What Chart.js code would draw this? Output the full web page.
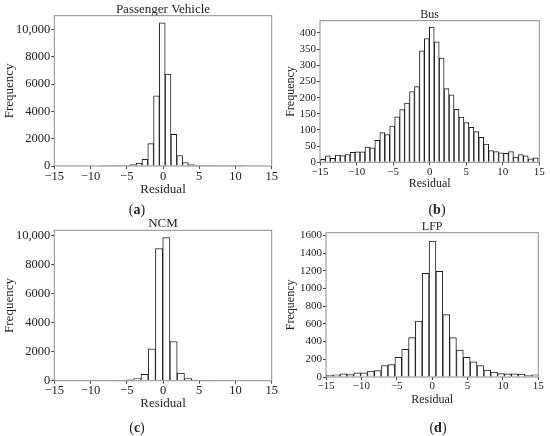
<!DOCTYPE html>
<html>
<head>
<meta charset="utf-8">
<script src="https://cdn.jsdelivr.net/npm/chart.js@4.4.1/dist/chart.umd.min.js"></script>
<style>
  body { margin: 0; background: #fff; }
  #wrap { position: relative; width: 550px; height: 436px; overflow: hidden; }
  canvas { position: absolute; }
  .cap { position: absolute; font: 14px "Liberation Serif", serif; color: #222; transform: translate(-50%, -50%); white-space: nowrap; }
</style>
</head>
<body>
<div id="wrap">
  <canvas id="pv" width="282" height="218" style="left:0;top:0"></canvas>
  <canvas id="bus" width="275" height="218" style="left:275px;top:0"></canvas>
  <canvas id="ncm" width="282" height="228" style="left:0;top:208px"></canvas>
  <canvas id="lfp" width="275" height="228" style="left:275px;top:208px"></canvas>
  <div class="cap" style="left:137px;top:210px">(<b>a</b>)</div>
  <div class="cap" style="left:437px;top:210px">(<b>b</b>)</div>
  <div class="cap" style="left:137px;top:428px">(<b>c</b>)</div>
  <div class="cap" style="left:438px;top:428px">(<b>d</b>)</div>
</div>
<script>
// bin centres and counts
const pvCenters = [-8.1, -7.3, -6.5, -5.7, -4.9, -4.1, -3.3, -2.5, -1.7, -0.9, -0.1, 0.7, 1.5, 2.3, 3.1, 3.9, 4.7, 5.5, 6.3, 7.1, 7.9, 8.7, 9.5, 10.3, 11.1];
const pvCounts = [5, 8, 12, 25, 50, 100, 220, 490, 1640, 5150, 10500, 6750, 2330, 770, 260, 110, 50, 25, 12, 8, 5, 4, 3, 2, 2];
const pvTicks = [0, 2000, 4000, 6000, 8000, 10000];

const busCenters = [-14.60, -13.93, -13.25, -12.57, -11.90, -11.22, -10.54, -9.87, -9.19, -8.51, -7.83, -7.16, -6.48, -5.80, -5.13,
  -4.45, -3.77, -3.10, -2.42, -1.74, -1.06, -0.39, 0.29, 0.97, 1.64, 2.32, 3.00, 3.68, 4.35, 5.03, 5.71, 6.38, 7.06, 7.74,
  8.41, 9.09, 9.77, 10.45, 11.12, 11.80, 12.48, 13.15, 13.83, 14.51];
const busCounts = [9, 20, 12, 22, 21, 24, 31, 32, 32, 47, 45, 68, 92, 86, 112, 141, 163, 183, 219, 234, 345, 383, 418,
  373, 322, 228, 209, 164, 140, 123, 108, 95, 77, 56, 36, 33, 29, 28, 33, 16, 24, 20, 11, 14];
const busTicks = [0, 50, 100, 150, 200, 250, 300, 350, 400];

const ncmCenters = [-6.54, -5.54, -4.54, -3.54, -2.54, -1.54, -0.54, 0.46, 1.46, 2.46, 3.46, 4.46, 5.46, 6.46];
const ncmCounts = [8, 20, 55, 140, 440, 2190, 9100, 9850, 2700, 520, 140, 45, 15, 6];
const ncmTicks = [0, 2000, 4000, 6000, 8000, 10000];

const lfpCenters = [-14.47, -13.50, -12.53, -11.57, -10.60, -9.63, -8.66, -7.69, -6.73, -5.76, -4.79, -3.82, -2.85, -1.89, -0.92,
  0.05, 1.02, 1.99, 2.95, 3.92, 4.89, 5.86, 6.83, 7.79, 8.76, 9.73, 10.70, 11.67, 12.63, 13.60, 14.57];
const lfpCounts = [18, 24, 36, 28, 48, 48, 68, 72, 130, 140, 222, 312, 445, 632, 1170, 1535,
  1195, 705, 445, 305, 222, 172, 130, 78, 55, 40, 36, 36, 34, 16, 25];
const lfpTicks = [0, 200, 400, 600, 800, 1000, 1200, 1400, 1600];

const xTicks = [-15, -10, -5, 0, 5, 10, 15];

const FONT = '"Liberation Serif", serif';
const INK = '#222';

const frame = {
  id: 'frame',
  afterDatasetsDraw(chart) {
    const { ctx, chartArea: a } = chart;
    ctx.save();
    ctx.strokeStyle = '#8c8c8c';
    ctx.lineWidth = 1;
    ctx.strokeRect(a.left, a.top, a.right - a.left, a.bottom - a.top);
    ctx.restore();
  }
};

function histogram(id, title, centers, counts, yMax, yTicks, box) {
  const tickFont = { family: FONT, size: box.tick };
  const labelFont = { family: FONT, size: box.label, lineHeight: 1, weight: 'normal' };
  new Chart(document.getElementById(id), {
    type: 'bar',
    data: {
      datasets: [{
        data: centers.map((c, i) => ({ x: c, y: counts[i] })),
        backgroundColor: '#fff',
        borderColor: '#1e1e1e',
        borderWidth: 1,
        barPercentage: 1,
        categoryPercentage: 1,
        clip: 0
      }]
    },
    options: {
      responsive: false,
      animation: false,
      layout: { padding: { left: 0, right: box.right, top: box.top, bottom: 0 } },
      plugins: {
        legend: { display: false },
        tooltip: { enabled: false },
        title: { display: true, text: title, font: labelFont, color: INK, padding: 0, fullSize: false }
      },
      scales: {
        x: {
          type: 'linear', min: xTicks[0], max: xTicks[xTicks.length - 1], offset: false,
          afterBuildTicks: s => { s.ticks = xTicks.map(v => ({ value: v })); },
          ticks: { font: tickFont, color: INK, padding: 0, maxRotation: 0, autoSkip: false,
            callback: v => v < 0 ? '\u2212' + (-v) : String(v) },
          grid: { offset: false, drawOnChartArea: false, tickLength: 3, tickColor: '#444' },
          border: { display: false },
          title: { display: true, text: 'Residual', font: labelFont, color: INK, padding: { top: 0, bottom: box.xTitle } },
          afterFit: s => { s.height = box.xH; }
        },
        y: {
          min: 0, max: yMax,
          afterBuildTicks: s => { s.ticks = yTicks.map(v => ({ value: v })); },
          ticks: { font: tickFont, color: INK, padding: 1, autoSkip: false,
            callback: v => v >= 10000 ? v.toLocaleString('en-US') : String(v) },
          grid: { drawOnChartArea: false, tickLength: 3, tickColor: '#444' },
          border: { display: false },
          title: { display: true, text: 'Frequency', font: labelFont, color: INK, padding: { top: box.yTitle, bottom: 0 } },
          afterFit: s => { s.width = box.yW; }
        }
      }
    },
    plugins: [frame]
  });
}

histogram('pv', 'Passenger Vehicle', pvCenters, pvCounts, 11025, pvTicks,
  { top: 2.7, right: 10.3, yW: 54.3, xH: 52, xTitle: 21.5, yTitle: 3.5, tick: 12.5, label: 13 });
histogram('bus', 'Bus', busCenters, busCounts, 438, busTicks,
  { top: 8.7, right: 10.7, yW: 45, xH: 55.7, xTitle: 28.5, yTitle: 9.5, tick: 11, label: 12 });
histogram('ncm', 'NCM', ncmCenters, ncmCounts, 10350, ncmTicks,
  { top: 9.3, right: 10.3, yW: 54.3, xH: 55.3, xTitle: 25.8, yTitle: 3.5, tick: 12.5, label: 13 });
histogram('lfp', 'LFP', lfpCenters, lfpCounts, 1630, lfpTicks,
  { top: 12.7, right: 11.7, yW: 51, xH: 59, xTitle: 30.5, yTitle: 9.5, tick: 11, label: 12 });
</script>
</body>
</html>
